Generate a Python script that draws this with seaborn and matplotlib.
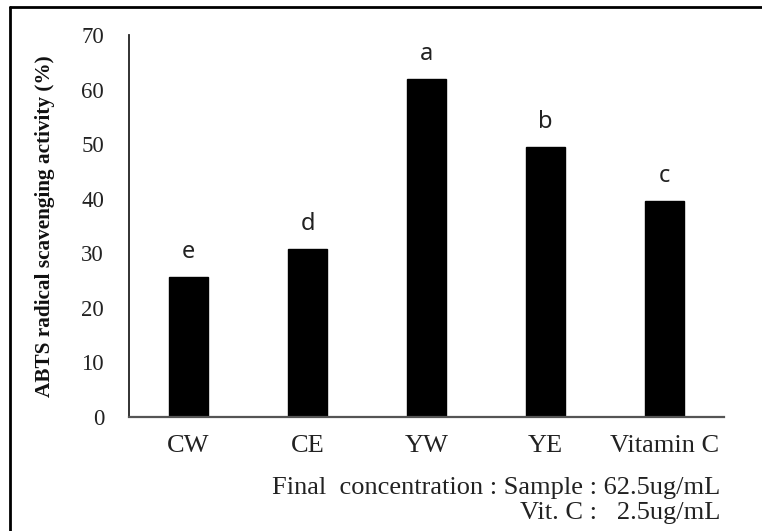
import matplotlib
matplotlib.use("Agg")
import matplotlib.pyplot as plt
import seaborn as sns
import pandas as pd
from matplotlib.lines import Line2D

categories = ["CW", "CE", "YW", "YE", "Vitamin C"]
values = [25.7, 30.8, 61.9, 49.5, 39.6]
letters = ["e", "d", "a", "b", "c"]
yticks = [0, 10, 20, 30, 40, 50, 60, 70]

df = pd.DataFrame({"cat": categories, "val": values})

sns.set_theme(style="white")
plt.rcParams["font.family"] = ["Liberation Serif", "DejaVu Serif"]

fig = plt.figure(figsize=(7.62, 5.31), dpi=100)
ax = fig.add_axes([129/762, 1-417/531, (724-129)/762, (417-35)/531])

sns.barplot(data=df, x="cat", y="val", color="black", width=0.32,
            saturation=1, ax=ax, edgecolor="black")

ax.set_ylim(0, 70)
ax.set_yticks(yticks)
ax.set_yticklabels([str(t) for t in yticks], fontsize=16.5, color="#222222")
ax.tick_params(axis="x", labelsize=19, length=0, pad=13, labelcolor="#222222")
ax.tick_params(axis="y", length=0, pad=18)
ax.set_xlabel("")
ax.set_ylabel("ABTS radical scavenging activity (%)", fontsize=15.3,
              fontweight="bold", labelpad=19, color="#111111")

for s in ["top", "right"]:
    ax.spines[s].set_visible(False)
ax.spines["left"].set_color("#222222")
ax.spines["bottom"].set_color("#555555")
ax.spines["left"].set_linewidth(1.3)
ax.spines["bottom"].set_linewidth(1.6)

for i, (v, l) in enumerate(zip(values, letters)):
    ax.text(i, v + 3.5, l, ha="center", va="baseline", fontsize=17,
            family=["Noto Sans", "DejaVu Sans"], color="#222222")

fig.text(720/762, 1-488/531, "Final  concentration : Sample : 62.5ug/mL",
         ha="right", va="center", fontsize=19, color="#222222")
fig.text(720/762, 1-513/531, "Vit. C :   2.5ug/mL",
         ha="right", va="center", fontsize=19, color="#222222")

fig.add_artist(Line2D([10/762, 10/762], [0, 1-7/531], color="black", lw=2,
                      transform=fig.transFigure))
fig.add_artist(Line2D([10/762, 1], [1-7/531, 1-7/531], color="black", lw=2,
                      transform=fig.transFigure))

fig.savefig("out.png", dpi=100)
